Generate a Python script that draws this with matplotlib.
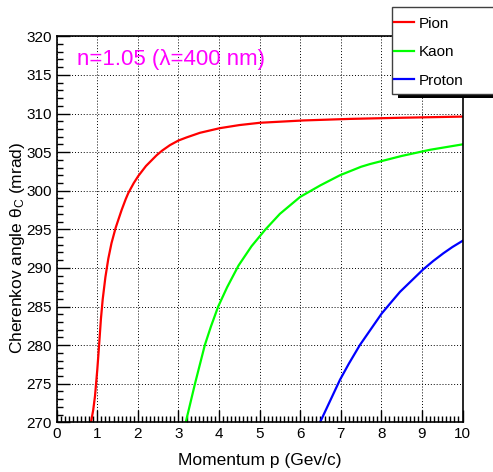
import matplotlib
matplotlib.use("Agg")
from matplotlib import pyplot as plt
from matplotlib.patches import Rectangle
from matplotlib.ticker import MultipleLocator

plt.rcParams['font.family'] = ['Liberation Sans', 'DejaVu Sans']
plt.rcParams['mathtext.fontset'] = 'custom'
plt.rcParams['mathtext.rm'] = 'Liberation Sans'
plt.rcParams['mathtext.it'] = 'Liberation Sans:italic'

# values (p in GeV/c, theta in mrad)
pion_p = [0.845, 0.9, 0.944, 1.0, 1.042, 1.09, 1.133, 1.2, 1.272, 1.35, 1.453, 1.6,
          1.7, 1.765, 1.9, 2.01, 2.2, 2.464, 2.6, 2.79, 3.0, 3.2, 3.53, 4.02, 4.5,
          5.01, 6.08, 7.22, 8.5, 10.0]
pion_theta = [270.0, 271.6, 273.4, 276.8, 279.8, 283.4, 285.9, 288.8, 291.2, 293.2, 295.2, 297.5,
              298.9, 299.7, 301.0, 301.9, 303.2, 304.6, 305.2, 305.9, 306.5, 306.9, 307.5, 308.1, 308.5,
              308.8, 309.1, 309.3, 309.45, 309.6]

kaon_p = [3.18, 3.41, 3.65, 3.8, 3.98, 4.2, 4.48, 4.8, 5.13, 5.5, 6.0, 6.5,
          6.98, 7.5, 7.72, 8.5, 9.2, 10.0]
kaon_theta = [270.0, 275.05, 280.0, 282.4, 285.0, 287.5, 290.3, 292.8, 294.9, 297.0, 299.2, 300.7,
              302.0, 303.1, 303.45, 304.5, 305.3, 306.0]

proton_p = [6.49, 6.98, 7.2, 7.47, 8.01, 8.25, 8.46, 9.03, 9.28, 9.53, 9.75, 10.0]
proton_theta = [270.0, 275.5, 277.6, 280.0, 284.1, 285.6, 286.9, 289.8, 290.9, 291.9, 292.7, 293.5]

W, H = 493, 472
fig = plt.figure(figsize=(W / 100, H / 100), dpi=100)
ax = fig.add_axes([56.7 / W, 1 - 422.3 / H, (462.5 - 56.7) / W, (422.3 - 36.3) / H])

l1, = ax.plot(pion_p, pion_theta, color='#ff0000', lw=1.6)
l2, = ax.plot(kaon_p, kaon_theta, color='#00ff00', lw=1.6)
l3, = ax.plot(proton_p, proton_theta, color='#0000ff', lw=1.6)

ax.set_xlim(0, 10)
ax.set_ylim(270, 320)
ax.xaxis.set_major_locator(MultipleLocator(1))
ax.xaxis.set_minor_locator(MultipleLocator(0.1))
ax.yaxis.set_major_locator(MultipleLocator(5))
ax.yaxis.set_minor_locator(MultipleLocator(1))
ax.tick_params(which='both', direction='in', top=False, right=False, labelsize=11, pad=3.5)
ax.tick_params(which='major', length=9, width=1)
ax.tick_params(which='minor', length=4.5, width=1)
ax.grid(True, which='major', color='black', lw=0.7, linestyle=(0, (1, 2)))
for s in ax.spines.values():
    s.set_linewidth(1.2)

fig.text(76.7 / W, 1 - 60 / H, u'n=1.05 (\u03bb=400 nm)', color='#ff00ff', fontsize=16,
         va='center', ha='left')

fig.text(259.6 / W, 1 - 460 / H, 'Momentum p (Gev/c)', ha='center', va='center', fontsize=12.5)
fig.text(18 / W, 1 - 248 / H, u'Cherenkov angle \u03b8$_\\mathregular{C}$ (mrad)',
         ha='center', va='center', rotation=90, fontsize=12.5)

# legend box with ROOT-like shadow
fig.patches.append(Rectangle((398 / W, 1 - 98 / H), 110 / W, 5 / H, transform=fig.transFigure,
                             facecolor='black', edgecolor='none', zorder=5))
fig.patches.append(Rectangle((392 / W, 1 - 94 / H), 110 / W, 87 / H, transform=fig.transFigure,
                             facecolor='white', edgecolor='#404040', lw=1, zorder=6))
leg = fig.legend([l1, l2, l3], ['Pion', 'Kaon', 'Proton'], frameon=False, loc='upper left',
                 bbox_to_anchor=(394 / W, 1 - 16.5 / H), handlelength=1.3, handletextpad=0.3,
                 labelspacing=0.95, borderpad=0, borderaxespad=0, fontsize=11)
leg.set_zorder(10)

fig.savefig('out.png', dpi=100)
